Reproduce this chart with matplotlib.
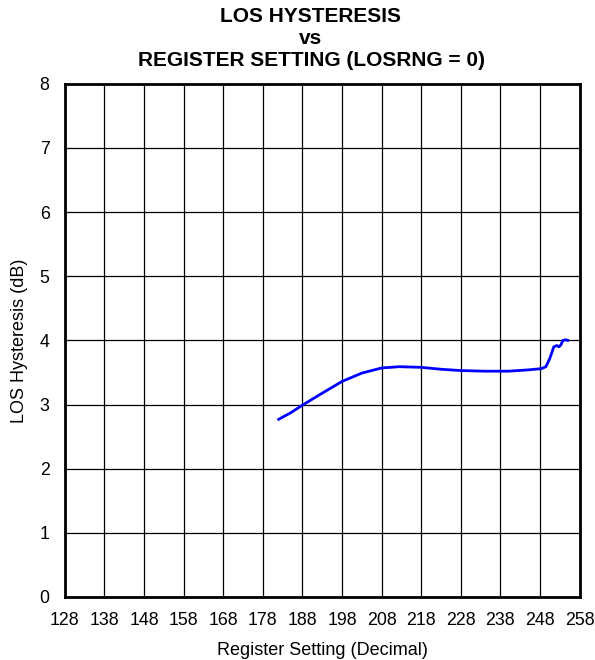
import numpy as np
import matplotlib.pyplot as plt

plt.rcParams['font.family'] = ['Liberation Sans', 'DejaVu Sans']

# curve
reg_setting = [182, 185, 188, 192, 198, 203, 208, 212.5, 218, 223, 228, 234, 240, 245,
               248.4, 249.5, 250.5, 251.5, 252.3, 252.8, 253.3, 253.8, 254.5, 255]
hysteresis = [2.77, 2.87, 2.99, 3.14, 3.36, 3.49, 3.57, 3.59, 3.58, 3.55, 3.53, 3.52, 3.52, 3.54,
              3.56, 3.59, 3.72, 3.90, 3.92, 3.90, 3.93, 4.00, 4.01, 4.00]

x_ticks = list(range(128, 259, 10))
y_ticks = list(range(0, 9))
title_lines = ['LOS HYSTERESIS', 'vs', 'REGISTER SETTING (LOSRNG = 0)']

fig = plt.figure(figsize=(5.95, 6.6), dpi=100)
ax = fig.add_axes([0.109, 0.0955, 0.865, 0.7775])

ax.plot(reg_setting, hysteresis, color='#0000ff', lw=2, zorder=3)

ax.set_xlim(128, 258)
ax.set_ylim(0, 8)
ax.set_xticks(x_ticks)
ax.set_yticks(y_ticks)
ax.tick_params(length=0, labelsize=12.8, pad=11)
ax.grid(True, color='black', lw=0.9)
ax.set_axisbelow(True)
for s in ax.spines.values():
    s.set_linewidth(2)

ax.set_xlabel('Register Setting (Decimal)', fontsize=13, labelpad=9)
ax.set_ylabel('LOS Hysteresis (dB)', fontsize=13, labelpad=8)

for i, line in enumerate(title_lines):
    fig.text(311 / 595, 1 - (17 + 21.5 * i) / 660, line, ha='center', va='center',
             fontsize=15, fontweight='bold')

fig.savefig('out.png', dpi=100)
